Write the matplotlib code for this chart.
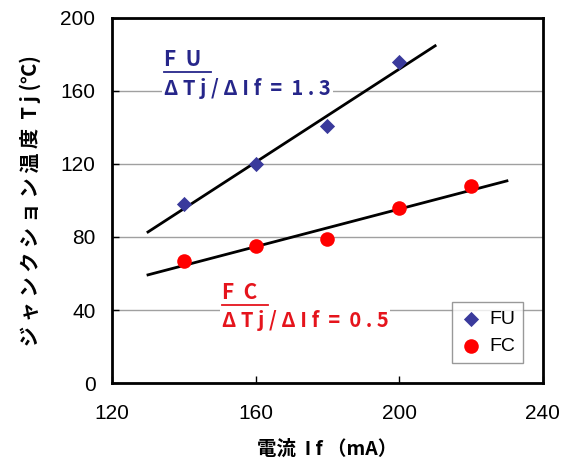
import matplotlib
matplotlib.use("Agg")
import matplotlib.pyplot as plt
import numpy as np

plt.rcParams['font.family'] = ['Noto Sans CJK JP', 'DejaVu Sans']
NARROW = ['Liberation Sans Narrow', 'Liberation Sans', 'DejaVu Sans']

# Junction temperature vs. forward current
fu_current = [140, 160, 180, 200]
fu_temp = [98, 120, 141, 176]
fc_current = [140, 160, 180, 200, 220]
fc_temp = [67, 75, 79, 96, 108]

fu_fit_range = [130, 210]
fc_fit_range = [130, 230]

x_ticks = [120, 160, 200, 240]
y_ticks = [0, 40, 80, 120, 160, 200]

fu_label = "F  U"
fu_slope_text = "Δ T j / Δ I f  =  1 . 3"
fc_label = "F  C"
fc_slope_text = "Δ T j / Δ I f  =  0 . 5"

BLUE = "#3a3a9c"
NAVY = "#26268a"
RED = "#ff0000"
RED_TXT = "#e5141c"

fig = plt.figure(figsize=(5.69, 4.68), dpi=100)
ax = fig.add_axes([0.197, 0.1816, 0.757, 0.78])

ax.set_xlim(120, 240)
ax.set_ylim(0, 200)
ax.set_xticks(x_ticks)
ax.set_yticks(y_ticks)
ax.grid(axis='y', color='#a0a0a0', linewidth=1.0, zorder=0)
ax.set_axisbelow(True)

# least-squares lines for each series
for xs, ys, rng in ((fu_current, fu_temp, fu_fit_range),
                    (fc_current, fc_temp, fc_fit_range)):
    k, b = np.polyfit(xs, ys, 1)
    xx = np.array(rng, dtype=float)
    ax.plot(xx, k * xx + b, color='black', linewidth=2.0, zorder=3)

ax.scatter(fu_current, fu_temp, marker='D', s=60, color=BLUE,
           label='FU', zorder=4, linewidths=0)
ax.scatter(fc_current, fc_temp, marker='o', s=110, color=RED,
           label='FC', zorder=4, linewidths=0)

for sp in ax.spines.values():
    sp.set_linewidth(2.0)
    sp.set_color('black')

ax.tick_params(direction='in', length=5, width=1, labelsize=15)
ax.tick_params(axis='y', pad=12)
ax.tick_params(axis='x', pad=15)
for lbl in ax.get_xticklabels() + ax.get_yticklabels():
    lbl.set_fontfamily(NARROW)

ax.set_xlabel("電流  I f （mA）", fontsize=14, fontweight='bold', labelpad=12)
ax.set_ylabel("ジ ャ ン ク シ ョ ン 温 度  T j (℃)", fontsize=14.5,
              fontweight='bold', labelpad=14)

bbox_white = dict(facecolor='white', edgecolor='none', pad=1.5)

ax.text(134.5, 177, fu_label, color=NAVY, fontsize=15, fontweight='bold',
        va='center', ha='left', zorder=5)
ax.text(134.5, 161.5, fu_slope_text, color=NAVY, fontsize=14.5, fontweight='bold',
        va='center', ha='left', bbox=bbox_white, zorder=5)
ax.text(150.5, 49.5, fc_label, color=RED_TXT, fontsize=15, fontweight='bold',
        va='center', ha='left', zorder=5)
ax.text(150.5, 34.5, fc_slope_text, color=RED_TXT, fontsize=14.5, fontweight='bold',
        va='center', ha='left', bbox=bbox_white, zorder=5)

# underline under the series names
ax.plot([134.5, 147.5], [170.5, 170.5], color=NAVY, linewidth=1.3, zorder=5)
ax.plot([150.5, 163.5], [43.0, 43.0], color=RED_TXT, linewidth=1.3, zorder=5)

leg = ax.legend(loc='lower left', bbox_to_anchor=(0.789, 0.055, 0.151, 0.175),
                frameon=True, fancybox=False, handletextpad=0.3,
                borderpad=0.4, labelspacing=0.5, handlelength=1.2,
                borderaxespad=0, prop={'family': NARROW, 'size': 14})
leg.get_frame().set_edgecolor('#808080')
leg.get_frame().set_linewidth(1.0)
leg.set_zorder(6)

fig.savefig("out.png", dpi=100, facecolor='white')
